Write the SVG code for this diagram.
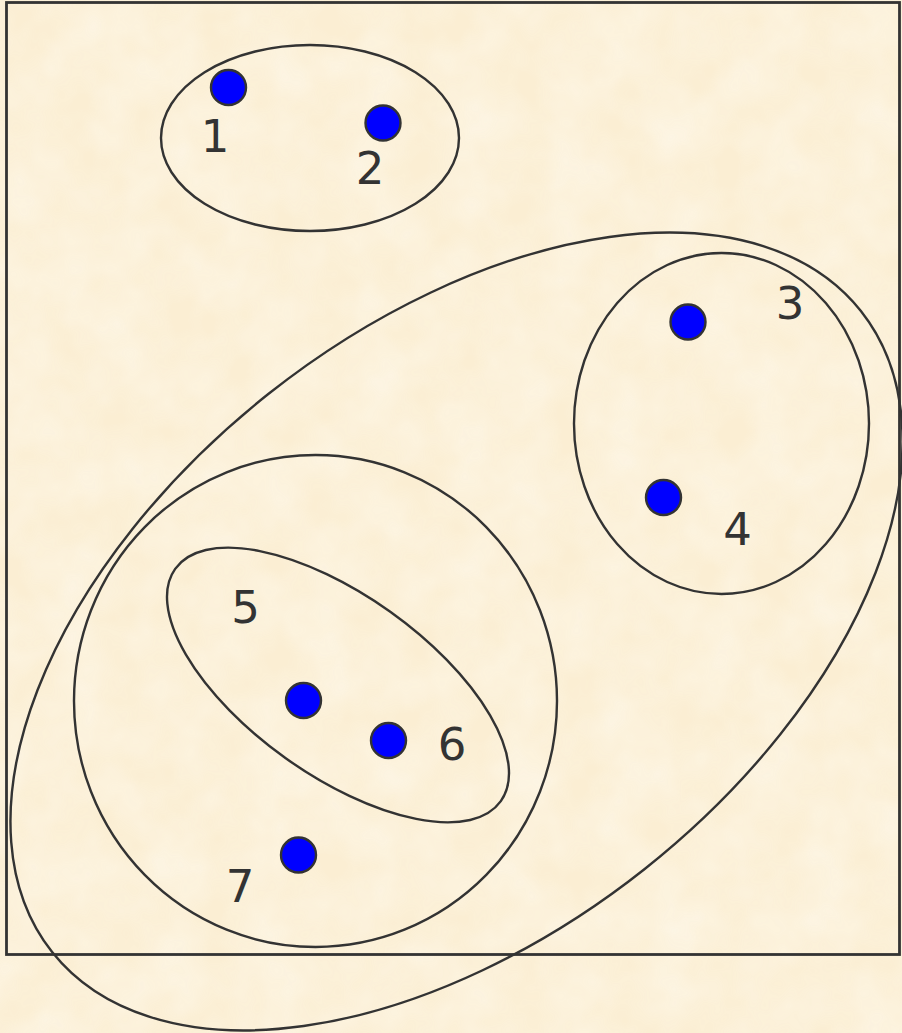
<svg xmlns="http://www.w3.org/2000/svg" width="902" height="1033" viewBox="0 0 902 1033">
  <defs>
    <filter id="paper" x="0" y="0" width="100%" height="100%">
      <feTurbulence type="fractalNoise" baseFrequency="0.02" numOctaves="3" seed="4" result="n"/>
      <feColorMatrix in="n" type="matrix" values="0 0 0 0 0.99  0 0 0 0 0.97  0 0 0 0 0.90  0 0 0 0.9 -0.2" result="c"/>
      <feComposite in="c" in2="SourceGraphic" operator="in"/>
    </filter>
  </defs>
  <style>
    .bg { fill: #FBEED3; }
    .frame { fill: none; stroke: #333333; stroke-width: 2.8; }
    .cluster { fill: none; stroke: #333333; stroke-width: 2.4; }
    .dot { fill: #0000FF; stroke: #333333; stroke-width: 2.4; }
    .lbl { font-family: "DejaVu Sans", "Liberation Sans", sans-serif; font-size: 45px; fill: #333333; text-anchor: middle; }
  </style>
  <rect class="bg" x="0" y="0" width="902" height="1033"/>
  <rect x="0" y="0" width="902" height="1033" fill="#FBEED3" filter="url(#paper)" opacity="0.8"/>
  <rect class="frame" x="6.5" y="2.5" width="893" height="952"/>

  <g id="clusters">
    <g id="cluster-12"><ellipse class="cluster" cx="310" cy="138" rx="149" ry="93"/></g>
    <g id="cluster-34567"><ellipse class="cluster" cx="456.5" cy="631.5" rx="516" ry="303" transform="rotate(-38.4 456.5 631.5)"/></g>
    <g id="cluster-34"><ellipse class="cluster" cx="721.5" cy="423.5" rx="147.5" ry="170.5"/></g>
    <g id="cluster-567"><ellipse class="cluster" cx="315.5" cy="701" rx="241.5" ry="246"/></g>
    <g id="cluster-56"><ellipse class="cluster" cx="338" cy="685" rx="200" ry="90" transform="rotate(35.5 338 685)"/></g>
  </g>

  <g id="node-1"><circle class="dot" cx="228.5" cy="87.5" r="17.5"/><text class="lbl" x="215" y="152">1</text></g>
  <g id="node-2"><circle class="dot" cx="383" cy="123" r="17.5"/><text class="lbl" x="370" y="184">2</text></g>
  <g id="node-3"><circle class="dot" cx="688" cy="322" r="17.5"/><text class="lbl" x="790" y="319">3</text></g>
  <g id="node-4"><circle class="dot" cx="663.5" cy="497.5" r="17.5"/><text class="lbl" x="737.5" y="545">4</text></g>
  <g id="node-5"><circle class="dot" cx="303.5" cy="700.5" r="17.5"/><text class="lbl" x="245.5" y="623">5</text></g>
  <g id="node-6"><circle class="dot" cx="388.5" cy="740.5" r="17.5"/><text class="lbl" x="452" y="760">6</text></g>
  <g id="node-7"><circle class="dot" cx="298.5" cy="855" r="17.5"/><text class="lbl" x="240" y="902">7</text></g>
</svg>
